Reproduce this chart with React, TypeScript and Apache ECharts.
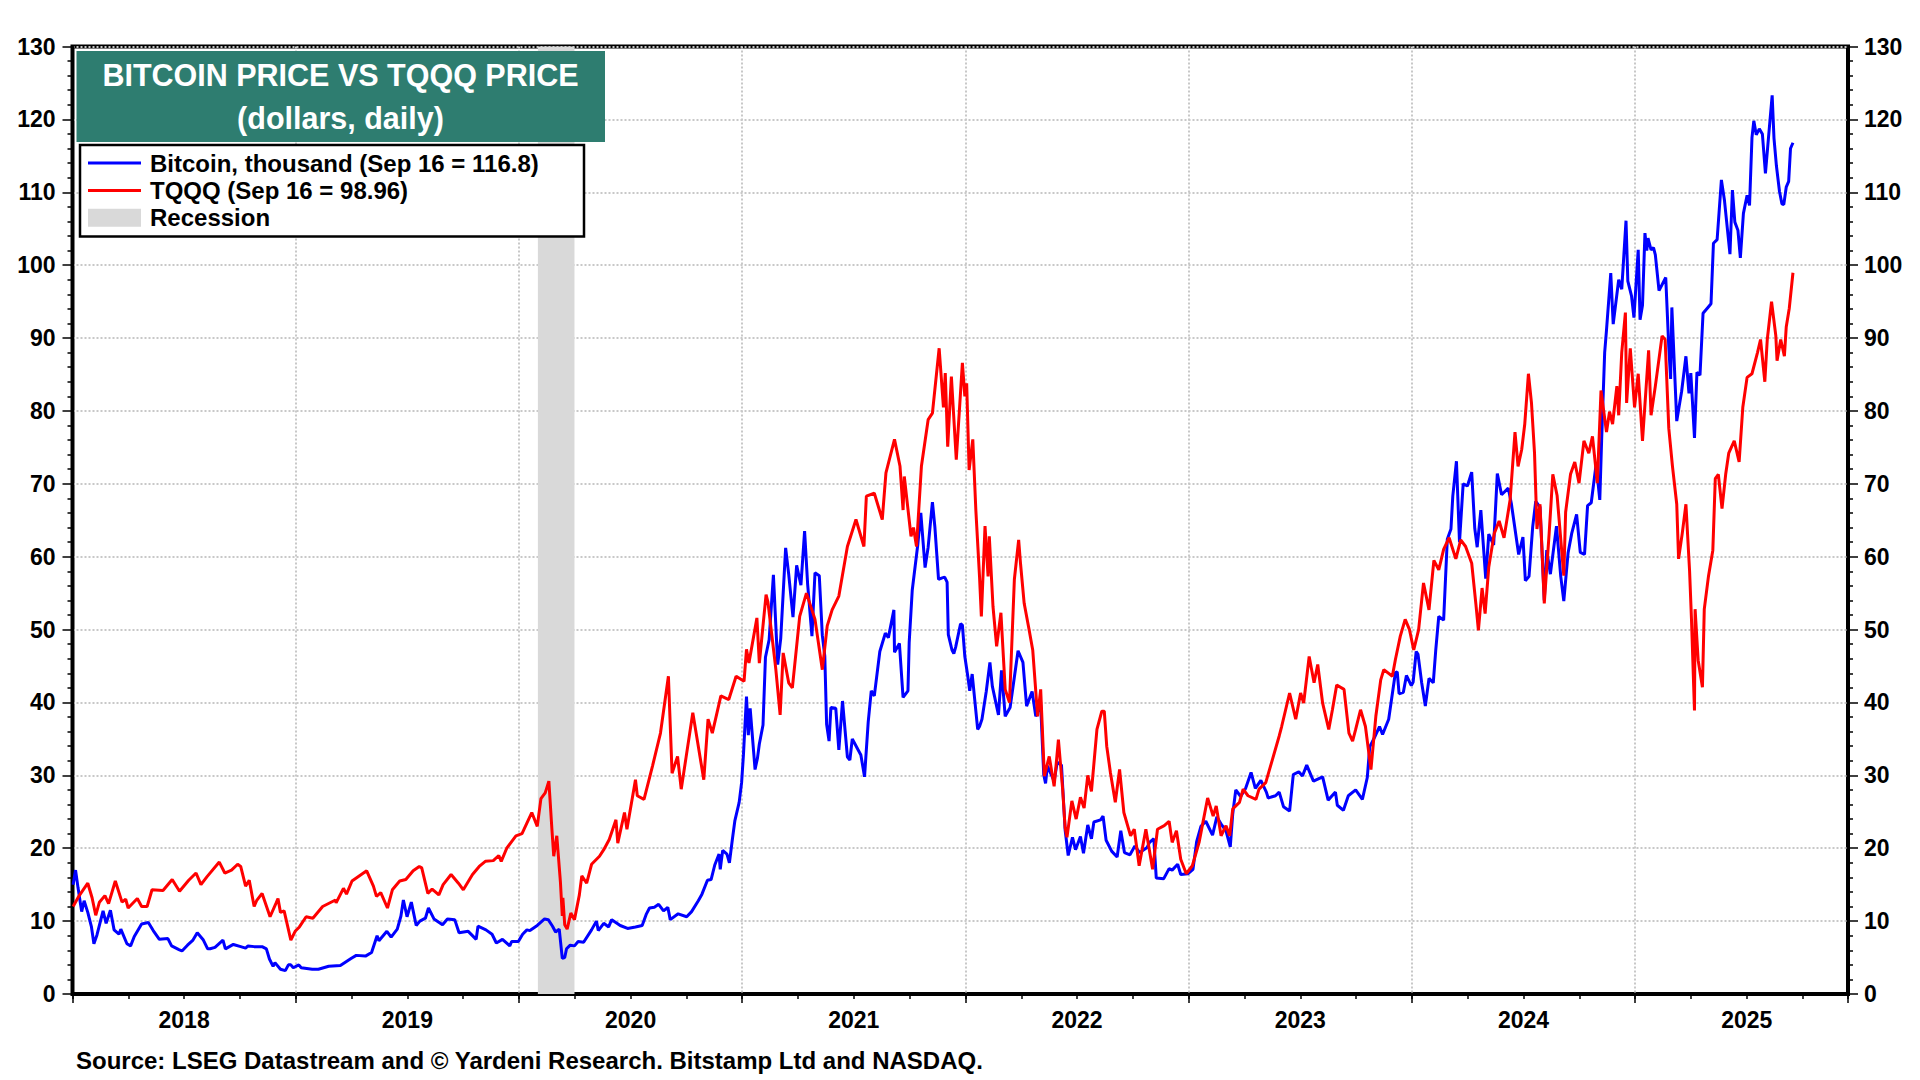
import React, { useEffect, useRef } from "react";
import * as echarts from "echarts";

const btcName = "Bitcoin, thousand (Sep 16 = 116.8)";
const tqqqName = "TQQQ (Sep 16 = 98.96)";
const recessionName = "Recession";

const titleLines = ["BITCOIN PRICE VS TQQQ PRICE", "(dollars, daily)"];
const sourceText = "Source: LSEG Datastream and \u00A9 Yardeni Research. Bitstamp Ltd and NASDAQ.";

const xStart = "2018-01-01";
const xEnd = "2025-12-15";
const recession: [string, string] = ["2020-02-01", "2020-04-01"];

const btc: [string, number][] = [
  ["2018-01-02", 15.0], ["2018-01-06", 17.0], ["2018-01-10", 14.6], ["2018-01-16", 11.3], ["2018-01-20", 12.8],
  ["2018-01-26", 11.2], ["2018-02-01", 9.2], ["2018-02-05", 6.9], ["2018-02-10", 8.1], ["2018-02-20", 11.4],
  ["2018-02-25", 9.7], ["2018-03-04", 11.5], ["2018-03-10", 8.8], ["2018-03-18", 8.2], ["2018-03-21", 8.9],
  ["2018-03-31", 6.9], ["2018-04-06", 6.6], ["2018-04-12", 7.9], ["2018-04-24", 9.6], ["2018-05-05", 9.8],
  ["2018-05-13", 8.7], ["2018-05-23", 7.5], ["2018-06-06", 7.6], ["2018-06-12", 6.6], ["2018-06-24", 6.1],
  ["2018-06-29", 5.9], ["2018-07-08", 6.7], ["2018-07-17", 7.4], ["2018-07-24", 8.4], ["2018-08-03", 7.4],
  ["2018-08-10", 6.2], ["2018-08-14", 6.2], ["2018-08-22", 6.4], ["2018-09-04", 7.4], ["2018-09-08", 6.2],
  ["2018-09-21", 6.8], ["2018-10-03", 6.5], ["2018-10-11", 6.3], ["2018-10-15", 6.6], ["2018-10-25", 6.5],
  ["2018-11-07", 6.5], ["2018-11-14", 6.2], ["2018-11-19", 4.8], ["2018-11-25", 3.8], ["2018-11-28", 4.3],
  ["2018-12-07", 3.4], ["2018-12-15", 3.2], ["2018-12-20", 4.0], ["2018-12-24", 4.0], ["2018-12-28", 3.6],
  ["2019-01-06", 4.0], ["2019-01-10", 3.6], ["2019-01-28", 3.4], ["2019-02-07", 3.4], ["2019-02-24", 3.8],
  ["2019-03-15", 3.9], ["2019-04-02", 4.9], ["2019-04-10", 5.3], ["2019-04-25", 5.2], ["2019-05-05", 5.7],
  ["2019-05-14", 8.0], ["2019-05-17", 7.3], ["2019-05-30", 8.6], ["2019-06-06", 7.8], ["2019-06-16", 8.9],
  ["2019-06-22", 10.7], ["2019-06-26", 12.9], ["2019-07-02", 10.6], ["2019-07-09", 12.6], ["2019-07-17", 9.4],
  ["2019-07-23", 10.0], ["2019-08-01", 10.4], ["2019-08-06", 11.8], ["2019-08-15", 10.3], ["2019-08-29", 9.5],
  ["2019-09-06", 10.3], ["2019-09-18", 10.2], ["2019-09-25", 8.4], ["2019-10-10", 8.6], ["2019-10-23", 7.5],
  ["2019-10-26", 9.3], ["2019-11-08", 8.8], ["2019-11-18", 8.2], ["2019-11-25", 7.0], ["2019-12-05", 7.5],
  ["2019-12-17", 6.6], ["2019-12-20", 7.2], ["2019-12-31", 7.2],
  ["2020-01-07", 8.2], ["2020-01-14", 8.8], ["2020-01-19", 8.7], ["2020-01-31", 9.4], ["2020-02-12", 10.3],
  ["2020-02-18", 10.2], ["2020-02-25", 9.3], ["2020-03-01", 8.5], ["2020-03-07", 8.9], ["2020-03-12", 4.9],
  ["2020-03-16", 5.0], ["2020-03-19", 6.2], ["2020-03-25", 6.7], ["2020-04-01", 6.6], ["2020-04-07", 7.2],
  ["2020-04-16", 7.1], ["2020-04-29", 8.8], ["2020-05-07", 10.0], ["2020-05-10", 8.7], ["2020-05-19", 9.7],
  ["2020-05-27", 9.2], ["2020-06-01", 10.2], ["2020-06-15", 9.4], ["2020-06-27", 9.0], ["2020-07-10", 9.2],
  ["2020-07-21", 9.4], ["2020-07-28", 11.0], ["2020-08-02", 11.8], ["2020-08-10", 11.9], ["2020-08-17", 12.3],
  ["2020-08-25", 11.4], ["2020-09-01", 11.9], ["2020-09-05", 10.2], ["2020-09-18", 11.0], ["2020-10-02", 10.6],
  ["2020-10-10", 11.3], ["2020-10-21", 12.8], ["2020-10-27", 13.7], ["2020-11-05", 15.6], ["2020-11-11", 15.7],
  ["2020-11-17", 17.7], ["2020-11-24", 19.2], ["2020-11-26", 17.1], ["2020-11-30", 19.7], ["2020-12-07", 19.2],
  ["2020-12-11", 18.0], ["2020-12-16", 21.3], ["2020-12-20", 23.8], ["2020-12-27", 26.3], ["2020-12-31", 29.0],
  ["2021-01-03", 32.8], ["2021-01-08", 40.8], ["2021-01-11", 35.5], ["2021-01-14", 39.2], ["2021-01-22", 30.8],
  ["2021-01-26", 32.4], ["2021-01-29", 34.3], ["2021-02-04", 36.9], ["2021-02-08", 46.2], ["2021-02-14", 48.6],
  ["2021-02-21", 57.5], ["2021-02-28", 45.2], ["2021-03-05", 48.8], ["2021-03-13", 61.2], ["2021-03-18", 57.6],
  ["2021-03-25", 51.7], ["2021-03-31", 58.8], ["2021-04-07", 56.1], ["2021-04-13", 63.5], ["2021-04-18", 56.2],
  ["2021-04-25", 49.1], ["2021-04-30", 57.8], ["2021-05-07", 57.4], ["2021-05-12", 49.2], ["2021-05-16", 46.4],
  ["2021-05-19", 37.0], ["2021-05-23", 34.7], ["2021-05-26", 39.3], ["2021-06-03", 39.2], ["2021-06-08", 33.5],
  ["2021-06-14", 40.2], ["2021-06-22", 32.5], ["2021-06-26", 32.1], ["2021-06-30", 35.0], ["2021-07-07", 33.9],
  ["2021-07-14", 32.8], ["2021-07-20", 29.8], ["2021-07-26", 37.3], ["2021-07-31", 41.6], ["2021-08-05", 40.9],
  ["2021-08-14", 47.0], ["2021-08-23", 49.5], ["2021-08-28", 48.9], ["2021-09-06", 52.7], ["2021-09-07", 46.9],
  ["2021-09-15", 48.1], ["2021-09-21", 40.7], ["2021-09-29", 41.6], ["2021-10-01", 48.2], ["2021-10-06", 55.4],
  ["2021-10-15", 61.6], ["2021-10-20", 66.0], ["2021-10-27", 58.5], ["2021-11-01", 61.3], ["2021-11-08", 67.5],
  ["2021-11-12", 64.1], ["2021-11-18", 56.9], ["2021-11-24", 57.1], ["2021-11-28", 57.2], ["2021-12-02", 56.5],
  ["2021-12-04", 49.3], ["2021-12-10", 47.2], ["2021-12-13", 46.7], ["2021-12-16", 47.6], ["2021-12-24", 50.8],
  ["2021-12-27", 50.6], ["2021-12-31", 46.3],
  ["2022-01-05", 43.5], ["2022-01-08", 41.6], ["2022-01-12", 43.9], ["2022-01-21", 36.3], ["2022-01-24", 36.7],
  ["2022-01-28", 37.7], ["2022-02-04", 41.5], ["2022-02-10", 45.5], ["2022-02-14", 42.2], ["2022-02-24", 38.3],
  ["2022-03-01", 44.4], ["2022-03-07", 38.1], ["2022-03-15", 39.3], ["2022-03-28", 47.1], ["2022-04-05", 45.5],
  ["2022-04-11", 39.5], ["2022-04-20", 41.5], ["2022-04-26", 38.1], ["2022-05-04", 39.7], ["2022-05-09", 30.1],
  ["2022-05-12", 28.9], ["2022-05-15", 31.3], ["2022-05-26", 29.2], ["2022-05-31", 31.8], ["2022-06-07", 31.4],
  ["2022-06-13", 22.5], ["2022-06-18", 19.0], ["2022-06-25", 21.5], ["2022-06-30", 19.8], ["2022-07-08", 21.6],
  ["2022-07-13", 19.3], ["2022-07-20", 23.2], ["2022-07-26", 21.3], ["2022-07-30", 23.6], ["2022-08-10", 23.9],
  ["2022-08-14", 24.4], ["2022-08-19", 21.1], ["2022-08-28", 19.6], ["2022-09-06", 18.8], ["2022-09-12", 22.4],
  ["2022-09-18", 19.4], ["2022-09-27", 19.1], ["2022-10-05", 20.3], ["2022-10-13", 19.4], ["2022-10-25", 20.1],
  ["2022-10-29", 20.8], ["2022-11-05", 21.3], ["2022-11-09", 15.9], ["2022-11-21", 15.8], ["2022-11-30", 17.2],
  ["2022-12-05", 17.0], ["2022-12-14", 17.8], ["2022-12-19", 16.4], ["2022-12-31", 16.5],
  ["2023-01-08", 17.1], ["2023-01-14", 20.9], ["2023-01-21", 23.0], ["2023-01-29", 23.7], ["2023-02-09", 21.8],
  ["2023-02-16", 24.3], ["2023-02-24", 23.2], ["2023-03-03", 22.4], ["2023-03-10", 20.2], ["2023-03-14", 24.7],
  ["2023-03-19", 28.0], ["2023-03-27", 27.1], ["2023-04-04", 28.2], ["2023-04-13", 30.4], ["2023-04-20", 28.2],
  ["2023-04-29", 29.3], ["2023-05-08", 27.7], ["2023-05-11", 26.9], ["2023-05-23", 27.2], ["2023-05-29", 27.7],
  ["2023-06-05", 25.7], ["2023-06-15", 25.1], ["2023-06-21", 30.1], ["2023-06-30", 30.5], ["2023-07-06", 29.9],
  ["2023-07-13", 31.4], ["2023-07-24", 29.2], ["2023-08-08", 29.8], ["2023-08-17", 26.6], ["2023-08-29", 27.7],
  ["2023-09-01", 25.9], ["2023-09-11", 25.2], ["2023-09-19", 27.2], ["2023-10-01", 28.0], ["2023-10-12", 26.7],
  ["2023-10-20", 29.7], ["2023-10-24", 33.9], ["2023-11-02", 35.4], ["2023-11-09", 36.7], ["2023-11-14", 35.6],
  ["2023-11-24", 37.7], ["2023-12-05", 44.1], ["2023-12-08", 44.2], ["2023-12-11", 41.2], ["2023-12-18", 41.4],
  ["2023-12-23", 43.7], ["2023-12-31", 42.3],
  ["2024-01-03", 42.8], ["2024-01-08", 47.0], ["2024-01-11", 46.6], ["2024-01-17", 42.7], ["2024-01-23", 39.5],
  ["2024-01-29", 43.3], ["2024-02-05", 42.7], ["2024-02-09", 47.1], ["2024-02-14", 51.8], ["2024-02-22", 51.3],
  ["2024-02-28", 62.4], ["2024-03-05", 63.8], ["2024-03-08", 68.3], ["2024-03-14", 73.1], ["2024-03-19", 62.0],
  ["2024-03-25", 70.0], ["2024-04-01", 69.7], ["2024-04-08", 71.6], ["2024-04-13", 63.9], ["2024-04-17", 61.3],
  ["2024-04-23", 66.4], ["2024-05-01", 57.0], ["2024-05-06", 63.1], ["2024-05-14", 61.6], ["2024-05-20", 71.4],
  ["2024-05-27", 68.5], ["2024-06-07", 69.4], ["2024-06-12", 67.3], ["2024-06-24", 60.3], ["2024-07-01", 62.7],
  ["2024-07-05", 56.7], ["2024-07-11", 57.3], ["2024-07-17", 64.1], ["2024-07-22", 67.6], ["2024-07-29", 66.8],
  ["2024-08-05", 54.0], ["2024-08-09", 60.9], ["2024-08-15", 57.6], ["2024-08-25", 64.2], ["2024-09-01", 57.3],
  ["2024-09-06", 53.9], ["2024-09-13", 60.5], ["2024-09-19", 63.2], ["2024-09-27", 65.8], ["2024-10-03", 60.6],
  ["2024-10-10", 60.3], ["2024-10-15", 67.0], ["2024-10-21", 67.4], ["2024-10-29", 72.7], ["2024-11-04", 67.8],
  ["2024-11-07", 75.9], ["2024-11-12", 88.0], ["2024-11-15", 91.1], ["2024-11-22", 98.9], ["2024-11-26", 91.9],
  ["2024-12-05", 98.0], ["2024-12-10", 96.7], ["2024-12-17", 106.1], ["2024-12-20", 97.8], ["2024-12-26", 95.8],
  ["2024-12-30", 92.8],
  ["2025-01-06", 102.1], ["2025-01-09", 92.5], ["2025-01-13", 94.5], ["2025-01-17", 104.4], ["2025-01-20", 102.0],
  ["2025-01-22", 103.7], ["2025-01-27", 102.1], ["2025-01-31", 102.4], ["2025-02-03", 101.4], ["2025-02-09", 96.5],
  ["2025-02-20", 98.3], ["2025-02-25", 88.7], ["2025-02-28", 84.4], ["2025-03-02", 94.2], ["2025-03-10", 78.6],
  ["2025-03-18", 82.7], ["2025-03-25", 87.5], ["2025-03-30", 82.4], ["2025-04-02", 85.2], ["2025-04-08", 76.3],
  ["2025-04-12", 85.3], ["2025-04-17", 84.9], ["2025-04-22", 93.4], ["2025-04-30", 94.2], ["2025-05-05", 94.7],
  ["2025-05-09", 103.0], ["2025-05-15", 103.5], ["2025-05-22", 111.7], ["2025-05-27", 108.9], ["2025-06-05", 101.5],
  ["2025-06-09", 110.3], ["2025-06-13", 105.9], ["2025-06-18", 104.8], ["2025-06-22", 101.0], ["2025-06-27", 107.1],
  ["2025-07-03", 109.6], ["2025-07-07", 108.2], ["2025-07-11", 117.5], ["2025-07-14", 119.8], ["2025-07-18", 117.9],
  ["2025-07-23", 118.7], ["2025-07-28", 118.0], ["2025-08-02", 112.6], ["2025-08-07", 117.5], ["2025-08-13", 123.3],
  ["2025-08-16", 117.4], ["2025-08-20", 113.6], ["2025-08-25", 110.1], ["2025-08-29", 108.4], ["2025-09-01", 108.3],
  ["2025-09-05", 110.7], ["2025-09-09", 111.5], ["2025-09-12", 116.0], ["2025-09-16", 116.8],
];

const tqqq: [string, number][] = [
  ["2018-01-02", 12.0], ["2018-01-12", 13.5], ["2018-01-26", 15.2], ["2018-02-02", 13.2], ["2018-02-08", 10.8],
  ["2018-02-14", 12.6], ["2018-02-23", 13.5], ["2018-03-01", 12.4], ["2018-03-12", 15.5], ["2018-03-23", 12.6],
  ["2018-03-29", 13.0], ["2018-04-02", 11.8], ["2018-04-17", 13.1], ["2018-04-24", 12.0], ["2018-05-03", 12.0],
  ["2018-05-11", 14.3], ["2018-05-29", 14.2], ["2018-06-13", 15.7], ["2018-06-25", 14.1], ["2018-07-10", 15.6],
  ["2018-07-22", 16.6], ["2018-07-30", 15.0], ["2018-08-09", 16.1], ["2018-08-29", 18.1], ["2018-09-07", 16.6],
  ["2018-09-18", 17.0], ["2018-09-28", 17.8], ["2018-10-03", 17.5], ["2018-10-11", 14.8], ["2018-10-17", 15.6],
  ["2018-10-25", 12.0], ["2018-10-29", 12.8], ["2018-11-07", 13.8], ["2018-11-20", 10.6], ["2018-11-30", 12.5],
  ["2018-12-03", 13.1], ["2018-12-07", 11.2], ["2018-12-13", 11.4], ["2018-12-24", 7.4], ["2018-12-31", 8.6],
  ["2019-01-07", 9.2], ["2019-01-18", 10.6], ["2019-01-29", 10.4], ["2019-02-14", 12.0], ["2019-03-07", 12.9],
  ["2019-03-08", 12.5], ["2019-03-20", 14.5], ["2019-03-25", 13.7], ["2019-04-03", 15.5], ["2019-04-27", 16.9],
  ["2019-05-08", 14.8], ["2019-05-13", 13.4], ["2019-05-20", 13.9], ["2019-05-31", 11.8], ["2019-06-08", 14.3],
  ["2019-06-20", 15.5], ["2019-06-30", 15.7], ["2019-07-12", 16.9], ["2019-07-22", 17.5], ["2019-07-26", 17.3],
  ["2019-08-05", 13.8], ["2019-08-12", 14.4], ["2019-08-23", 13.6], ["2019-08-30", 15.0], ["2019-09-12", 16.4],
  ["2019-09-24", 15.2], ["2019-10-02", 14.3], ["2019-10-17", 16.4], ["2019-10-28", 17.5], ["2019-11-07", 18.2],
  ["2019-11-20", 18.3], ["2019-11-29", 19.0], ["2019-12-03", 18.2], ["2019-12-12", 20.0], ["2019-12-27", 21.7],
  ["2020-01-06", 22.0], ["2020-01-17", 24.0], ["2020-01-22", 24.9], ["2020-01-31", 23.0], ["2020-02-06", 26.8],
  ["2020-02-13", 27.6], ["2020-02-19", 29.2], ["2020-02-24", 22.6], ["2020-02-27", 18.9], ["2020-03-03", 21.7],
  ["2020-03-09", 15.3], ["2020-03-12", 10.7], ["2020-03-13", 13.2], ["2020-03-16", 9.5], ["2020-03-20", 8.9],
  ["2020-03-26", 11.1], ["2020-04-01", 10.2], ["2020-04-09", 13.6], ["2020-04-13", 16.2], ["2020-04-21", 15.2],
  ["2020-04-29", 17.8], ["2020-05-12", 18.9], ["2020-05-19", 19.8], ["2020-05-28", 21.2], ["2020-06-08", 23.9],
  ["2020-06-11", 20.7], ["2020-06-22", 24.9], ["2020-06-26", 22.6], ["2020-07-10", 29.4], ["2020-07-13", 27.2],
  ["2020-07-24", 26.7], ["2020-08-07", 31.3], ["2020-08-20", 35.8], ["2020-09-02", 43.6], ["2020-09-08", 30.3],
  ["2020-09-17", 32.6], ["2020-09-23", 28.1], ["2020-10-01", 32.5], ["2020-10-12", 38.6], ["2020-10-20", 34.5],
  ["2020-10-30", 29.4], ["2020-11-06", 37.7], ["2020-11-13", 35.8], ["2020-11-27", 40.9], ["2020-12-10", 40.4],
  ["2020-12-22", 43.6],
  ["2021-01-04", 42.9], ["2021-01-08", 47.3], ["2021-01-12", 45.4], ["2021-01-25", 51.6], ["2021-01-29", 45.4],
  ["2021-02-09", 54.8], ["2021-02-12", 53.8], ["2021-02-23", 46.0], ["2021-02-25", 44.5], ["2021-03-04", 38.3],
  ["2021-03-09", 46.8], ["2021-03-18", 42.7], ["2021-03-24", 42.0], ["2021-04-05", 51.8], ["2021-04-16", 55.0],
  ["2021-04-30", 51.4], ["2021-05-12", 44.5], ["2021-05-20", 50.5], ["2021-05-28", 52.7], ["2021-06-08", 54.6],
  ["2021-06-22", 61.4], ["2021-07-06", 65.1], ["2021-07-19", 61.4], ["2021-07-23", 68.3], ["2021-08-05", 68.7],
  ["2021-08-18", 65.1], ["2021-08-24", 71.5], ["2021-09-07", 76.1], ["2021-09-16", 72.4], ["2021-09-21", 66.4],
  ["2021-09-23", 71.0], ["2021-10-04", 62.8], ["2021-10-08", 64.0], ["2021-10-13", 61.4], ["2021-10-21", 72.4],
  ["2021-11-01", 78.8], ["2021-11-08", 79.7], ["2021-11-19", 88.6], ["2021-11-26", 80.5], ["2021-11-29", 85.2],
  ["2021-12-03", 75.1], ["2021-12-09", 84.7], ["2021-12-17", 73.3], ["2021-12-27", 86.6], ["2021-12-31", 82.0],
  ["2022-01-03", 83.8], ["2022-01-07", 71.9], ["2022-01-13", 76.1], ["2022-01-18", 66.4], ["2022-01-24", 57.3],
  ["2022-01-27", 51.8], ["2022-02-02", 64.2], ["2022-02-07", 57.3], ["2022-02-09", 62.8], ["2022-02-15", 53.2],
  ["2022-02-21", 47.7], ["2022-02-28", 52.3], ["2022-03-07", 41.8], ["2022-03-14", 40.0], ["2022-03-22", 56.9],
  ["2022-03-29", 62.3], ["2022-04-01", 59.1], ["2022-04-07", 53.6], ["2022-04-15", 50.0], ["2022-04-21", 47.2],
  ["2022-04-29", 38.1], ["2022-05-04", 41.8], ["2022-05-10", 29.9], ["2022-05-18", 32.6], ["2022-05-26", 28.5],
  ["2022-06-02", 34.9], ["2022-06-09", 28.0], ["2022-06-13", 22.8], ["2022-06-16", 21.5], ["2022-06-24", 26.5],
  ["2022-07-01", 24.0], ["2022-07-08", 27.0], ["2022-07-14", 25.5], ["2022-07-20", 30.0], ["2022-07-26", 27.8],
  ["2022-08-04", 36.3], ["2022-08-12", 38.8], ["2022-08-16", 38.8], ["2022-08-20", 34.0], ["2022-08-26", 30.4],
  ["2022-09-03", 26.3], ["2022-09-10", 30.8], ["2022-09-17", 24.9], ["2022-09-28", 21.7], ["2022-10-04", 22.6],
  ["2022-10-12", 17.6], ["2022-10-23", 22.6], ["2022-11-03", 17.1], ["2022-11-11", 22.6], ["2022-11-22", 23.1],
  ["2022-11-30", 23.7], ["2022-12-05", 20.8], ["2022-12-12", 22.4], ["2022-12-19", 18.5], ["2022-12-28", 16.5],
  ["2023-01-07", 17.6], ["2023-01-18", 20.8], ["2023-02-01", 26.9], ["2023-02-10", 24.4], ["2023-02-15", 25.8],
  ["2023-02-23", 21.7], ["2023-03-03", 23.1], ["2023-03-09", 21.7], ["2023-03-14", 25.4], ["2023-03-25", 26.3],
  ["2023-03-31", 28.1], ["2023-04-08", 27.2], ["2023-04-21", 26.7], ["2023-04-26", 28.1], ["2023-05-07", 29.0],
  ["2023-05-18", 32.2], ["2023-05-29", 35.4], ["2023-06-02", 36.7], ["2023-06-15", 41.3], ["2023-06-25", 37.7],
  ["2023-07-03", 41.3], ["2023-07-08", 39.9], ["2023-07-17", 46.3], ["2023-07-25", 42.7], ["2023-07-31", 45.2],
  ["2023-08-08", 39.9], ["2023-08-18", 36.3], ["2023-08-24", 39.0], ["2023-08-31", 42.4], ["2023-09-12", 41.8],
  ["2023-09-20", 35.8], ["2023-09-26", 34.7], ["2023-10-01", 36.3], ["2023-10-09", 39.0], ["2023-10-17", 36.7],
  ["2023-10-26", 30.8], ["2023-11-03", 38.1], ["2023-11-11", 43.1], ["2023-11-16", 44.5], ["2023-11-30", 43.6],
  ["2023-12-05", 45.9], ["2023-12-13", 49.1], ["2023-12-21", 51.4], ["2023-12-28", 50.0],
  ["2024-01-04", 47.2], ["2024-01-12", 50.0], ["2024-01-20", 56.4], ["2024-01-29", 52.7], ["2024-02-06", 59.5],
  ["2024-02-14", 58.2], ["2024-02-22", 61.0], ["2024-03-02", 62.6], ["2024-03-13", 59.7], ["2024-03-21", 62.3],
  ["2024-03-29", 61.4], ["2024-04-08", 59.1], ["2024-04-15", 53.4], ["2024-04-19", 49.9], ["2024-04-25", 55.7],
  ["2024-04-30", 52.2], ["2024-05-06", 58.6], ["2024-05-15", 63.2], ["2024-05-23", 64.9], ["2024-05-31", 62.6],
  ["2024-06-10", 67.8], ["2024-06-18", 77.1], ["2024-06-23", 72.4], ["2024-06-29", 74.7], ["2024-07-04", 78.2],
  ["2024-07-10", 85.1], ["2024-07-15", 81.1], ["2024-07-20", 74.2], ["2024-07-24", 63.8], ["2024-07-29", 67.2],
  ["2024-08-05", 53.6], ["2024-08-13", 63.2], ["2024-08-19", 71.3], ["2024-08-26", 68.4], ["2024-09-06", 57.4],
  ["2024-09-09", 66.1], ["2024-09-17", 71.3], ["2024-09-24", 73.0], ["2024-10-01", 70.1], ["2024-10-09", 75.9],
  ["2024-10-17", 74.2], ["2024-10-23", 76.5], ["2024-10-31", 70.1], ["2024-11-06", 82.8], ["2024-11-12", 79.0],
  ["2024-11-15", 77.1], ["2024-11-20", 79.9], ["2024-11-25", 78.2], ["2024-12-02", 83.4], ["2024-12-05", 79.4],
  ["2024-12-10", 88.0], ["2024-12-16", 93.5], ["2024-12-18", 81.1], ["2024-12-24", 88.6], ["2024-12-31", 80.5],
  ["2025-01-06", 85.1], ["2025-01-13", 75.9], ["2025-01-23", 88.3], ["2025-01-27", 79.4], ["2025-02-03", 83.4],
  ["2025-02-14", 90.3], ["2025-02-19", 89.8], ["2025-02-25", 77.6], ["2025-03-03", 72.4], ["2025-03-10", 67.2],
  ["2025-03-13", 59.7], ["2025-03-19", 63.2], ["2025-03-25", 67.2], ["2025-03-31", 58.0], ["2025-04-03", 51.6],
  ["2025-04-08", 38.9], ["2025-04-09", 52.8], ["2025-04-14", 45.8], ["2025-04-21", 42.1], ["2025-04-24", 52.8],
  ["2025-05-01", 57.4], ["2025-05-08", 60.9], ["2025-05-12", 70.7], ["2025-05-17", 71.3], ["2025-05-23", 66.6],
  ["2025-05-29", 71.3], ["2025-06-03", 74.2], ["2025-06-12", 75.9], ["2025-06-20", 73.0], ["2025-06-26", 80.5],
  ["2025-07-03", 84.6], ["2025-07-11", 85.1], ["2025-07-20", 88.0], ["2025-07-25", 89.8], ["2025-08-01", 84.0],
  ["2025-08-05", 89.8], ["2025-08-12", 95.0], ["2025-08-19", 90.3], ["2025-08-21", 86.9], ["2025-08-27", 89.8],
  ["2025-09-02", 87.5], ["2025-09-05", 91.5], ["2025-09-10", 94.1], ["2025-09-16", 98.96],
];

const yMin = 0;
const yMax = 130;
const yStep = 10;

function toYear(d: string): number {
  const [y, m, day] = d.split("-").map(Number);
  const start = Date.UTC(y, 0, 1);
  const end = Date.UTC(y + 1, 0, 1);
  return y + (Date.UTC(y, m - 1, day) - start) / (end - start);
}

const FONT = "'Liberation Sans', Arial, Helvetica, sans-serif";
const W = 1920;
const H = 1080;
const GRID = { left: 72.5, right: 72, top: 46.5, bottom: 86 };
const LINE_ICON = "path://M0,0H53V3H0Z";

export default function App() {
  const ref = useRef<HTMLDivElement>(null);

  useEffect(() => {
    document.body.style.margin = "0";
    if (!ref.current) return;
    const chart = echarts.init(ref.current, undefined, { renderer: "svg" });

    const xMin = toYear(xStart);
    const xMax = toYear(xEnd);
    const plotW = W - GRID.left - GRID.right;
    const yearPx = plotW / (xMax - xMin);

    const gridLine = { show: true, lineStyle: { color: "#C8C8C8", width: 2, type: [2, 2] as any } };
    const axisText = { color: "#000", fontSize: 23, fontWeight: "bold" as const, fontFamily: FONT };

    const yAxisBase = (pos: "left" | "right", split: boolean, margin: number) => ({
      type: "value" as const,
      min: yMin,
      max: yMax,
      interval: yStep,
      position: pos,
      axisLine: { show: true, onZero: false, lineStyle: { color: "#000", width: 3 } },
      axisTick: { show: true, length: 10, lineStyle: { color: "#000", width: 1.5 } },
      minorTick: { show: true, splitNumber: 5, length: 5, lineStyle: { color: "#000", width: 1.5 } },
      axisLabel: { ...axisText, margin },
      splitLine: split ? gridLine : { show: false },
      minorSplitLine: { show: false },
    });

    const option: any = {
      animation: false,
      backgroundColor: "#ffffff",
      grid: {
        left: GRID.left,
        right: GRID.right,
        top: GRID.top,
        bottom: GRID.bottom,
        show: true,
        borderColor: "#000",
        borderWidth: 4,
        backgroundColor: "transparent",
        containLabel: false,
      },
      xAxis: [
        {
          type: "value",
          min: xMin,
          max: xMax,
          interval: 0.25,
          position: "bottom",
          axisLine: { show: true, onZero: false, lineStyle: { color: "#000", width: 3 } },
          axisTick: { show: true, length: 5, lineStyle: { color: "#000", width: 1.5 } },
          axisLabel: { show: false },
          splitLine: { show: false },
        },
        {
          type: "value",
          min: xMin,
          max: xMax,
          interval: 1,
          position: "bottom",
          axisLine: { show: false, onZero: false },
          axisTick: { show: true, length: 9, lineStyle: { color: "#000", width: 1.5 } },
          axisLabel: {
            show: true,
            margin: 14.5,
            formatter: (v: number) =>
              Math.abs(v - Math.round(v)) < 1e-6 ? `{a|${Math.round(v)}}` : "",
            rich: { a: { ...axisText, padding: [0, 0, 0, yearPx] } },
          },
          splitLine: gridLine,
        },
      ],
      yAxis: [yAxisBase("left", true, 17), yAxisBase("right", false, 16)],
      legend: {
        show: true,
        orient: "vertical",
        left: 88,
        top: 151,
        itemWidth: 53,
        itemHeight: 18,
        itemGap: 3.4,
        padding: 0,
        selectedMode: false,
        symbolKeepAspect: true,
        z: 10,
        textStyle: {
          color: "#000",
          fontSize: 24,
          fontWeight: "bold",
          fontFamily: FONT,
          padding: [0, 0, 0, 4],
        },
        data: [
          { name: btcName, icon: LINE_ICON },
          { name: tqqqName, icon: LINE_ICON },
          { name: recessionName, icon: "rect" },
        ],
      },
      graphic: [
        {
          type: "rect",
          z: 8,
          shape: { x: 76.5, y: 51, width: 528.5, height: 91 },
          style: { fill: "#2E7D70" },
        },
        {
          type: "text",
          z: 9,
          style: {
            text: titleLines[0],
            x: 340.5,
            y: 75,
            align: "center",
            verticalAlign: "middle",
            fill: "#fff",
            fontSize: 30.5,
            fontWeight: "bold",
            fontFamily: FONT,
          },
        },
        {
          type: "text",
          z: 9,
          style: {
            text: titleLines[1],
            x: 340.5,
            y: 118,
            align: "center",
            verticalAlign: "middle",
            fill: "#fff",
            fontSize: 30.5,
            fontWeight: "bold",
            fontFamily: FONT,
          },
        },
        {
          type: "rect",
          z: 8,
          shape: { x: 80, y: 145, width: 504, height: 91.5 },
          style: { fill: "#fff", stroke: "#000", lineWidth: 2.5 },
        },
        {
          type: "text",
          z: 9,
          style: {
            text: sourceText,
            x: 76,
            y: 1060,
            align: "left",
            verticalAlign: "middle",
            fill: "#000",
            fontSize: 24,
            fontWeight: "bold",
            fontFamily: FONT,
          },
        },
      ],
      series: [
        {
          name: recessionName,
          type: "line",
          data: [],
          itemStyle: { color: "#D9D9D9" },
          lineStyle: { color: "#D9D9D9" },
          markArea: {
            silent: true,
            itemStyle: { color: "#D9D9D9" },
            data: [[{ xAxis: toYear(recession[0]) }, { xAxis: toYear(recession[1]) }]],
          },
        },
        {
          name: btcName,
          type: "line",
          data: btc.map(([d, v]) => [toYear(d), v]),
          showSymbol: false,
          symbol: "none",
          lineStyle: { color: "#0000FF", width: 3 },
          itemStyle: { color: "#0000FF" },
        },
        {
          name: tqqqName,
          type: "line",
          data: tqqq.map(([d, v]) => [toYear(d), v]),
          showSymbol: false,
          symbol: "none",
          lineStyle: { color: "#FF0000", width: 3 },
          itemStyle: { color: "#FF0000" },
        },
      ],
    };

    chart.setOption(option);
    return () => chart.dispose();
  }, []);

  return (
    <div
      ref={ref}
      style={{ position: "absolute", left: 0, top: 0, width: W, height: H, background: "#fff" }}
    />
  );
}
